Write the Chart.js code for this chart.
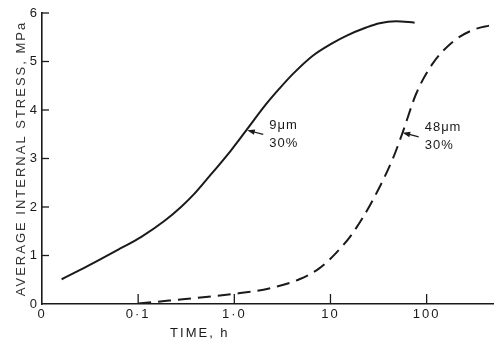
<!DOCTYPE html>
<html>
<head>
<meta charset="utf-8">
<script src="https://cdn.jsdelivr.net/npm/chart.js@4.4.1/dist/chart.umd.min.js"></script>
<style>
html, body { margin: 0; padding: 0; background: #fff; }
</style>
</head>
<body>
<canvas id="stressChart" width="500" height="339"></canvas>
<script>
// 9 um particles, 30%
let fineTime = [0.016, 0.0297, 0.066, 0.107, 0.187, 0.279, 0.383, 0.507, 0.925, 1.33, 2.14, 2.94, 4.05, 6.55, 10.5, 14.6, 23.5, 32.4, 48, 75];
let fineStress = [0.51, 0.78, 1.15, 1.38, 1.71, 2.0, 2.27, 2.55, 3.17, 3.58, 4.12, 4.44, 4.74, 5.12, 5.38, 5.53, 5.70, 5.79, 5.83, 5.80];

// 48 um particles, 30%
let coarseTime = [0.1, 0.21, 1.0, 2.3, 4.75, 7.7, 11.4, 17, 27.5, 44.6, 56.6, 78, 116, 188, 302, 468];
let coarseStress = [0.01, 0.07, 0.21, 0.32, 0.51, 0.74, 1.05, 1.46, 2.14, 3.0, 3.55, 4.34, 4.96, 5.41, 5.65, 5.75];

let xTicks = [0.01, 0.1, 1, 10, 100];
let xTickLabels = ['0', '0·1', '1·0', '10', '100'];
let yTicks = [0, 1, 2, 3, 4, 5, 6];

let notes = [
    { x: 1.33, y: 3.58, lines: ['9μm', '30%'] },
    { x: 55, y: 3.53, lines: ['48μm', '30%'] }
];

let ink = '#1a1a1a';
let fontFamily = '"Liberation Sans", Arial, sans-serif';

function toPoints(xs, ys) {
    return xs.map((x, i) => ({ x: x, y: ys[i] }));
}

// spaced-out lettering like the original drawing
let spacing = {
    id: 'spacing',
    beforeLayout(chart) { chart.ctx.letterSpacing = '2px'; },
    beforeDraw(chart) { chart.ctx.letterSpacing = '2px'; }
};

let extras = {
    id: 'extras',
    afterDraw(chart) {
        let ctx = chart.ctx;
        let xs = chart.scales.x;
        let ys = chart.scales.y;
        let area = chart.chartArea;
        ctx.save();
        ctx.strokeStyle = ink;
        ctx.fillStyle = ink;
        ctx.lineWidth = 1.3;

        // tick marks pointing inward
        xTicks.slice(1).forEach(v => {
            let px = xs.getPixelForValue(v);
            ctx.beginPath();
            ctx.moveTo(px, area.bottom);
            ctx.lineTo(px, area.bottom - 10);
            ctx.stroke();
        });
        yTicks.slice(1).forEach(v => {
            let py = ys.getPixelForValue(v);
            ctx.beginPath();
            ctx.moveTo(area.left, py);
            ctx.lineTo(area.left + 7, py);
            ctx.stroke();
        });

        // x axis title (sits left of centre in the original)
        ctx.letterSpacing = '2px';
        ctx.font = '13px ' + fontFamily;
        ctx.textAlign = 'center';
        ctx.textBaseline = 'middle';
        ctx.fillText('TIME, h', area.left + (area.right - area.left) * 0.35, 333);

        // curve labels with arrows
        ctx.letterSpacing = '1px';
        notes.forEach(n => {
            let tx = xs.getPixelForValue(n.x);
            let ty = ys.getPixelForValue(n.y);
            let sx = tx + 17, sy = ty + 4;
            ctx.lineWidth = 1.2;
            ctx.beginPath();
            ctx.moveTo(sx, sy);
            ctx.lineTo(tx + 4, ty + 0.6);
            ctx.stroke();
            let ang = Math.atan2(ty - sy, tx - sx);
            ctx.beginPath();
            ctx.moveTo(tx + 1, ty);
            ctx.lineTo(tx + 1 - 8 * Math.cos(ang - 0.35), ty - 8 * Math.sin(ang - 0.35));
            ctx.lineTo(tx + 1 - 8 * Math.cos(ang + 0.35), ty - 8 * Math.sin(ang + 0.35));
            ctx.closePath();
            ctx.fill();
            ctx.textAlign = 'left';
            ctx.fillText(n.lines[0], tx + 23, ty - 5);
            ctx.fillText(n.lines[1], tx + 23, ty + 13);
        });
        ctx.restore();
    }
};

let ctx = document.getElementById('stressChart').getContext('2d');
let stressChart = new Chart(ctx, {
    type: 'line',
    data: {
        datasets: [
            {
                data: toPoints(fineTime, fineStress),
                borderColor: ink,
                borderWidth: 2,
                pointRadius: 0,
                cubicInterpolationMode: 'monotone',
                fill: false
            },
            {
                data: toPoints(coarseTime, coarseStress),
                borderColor: ink,
                borderWidth: 2,
                borderDash: [13, 7],
                pointRadius: 0,
                cubicInterpolationMode: 'monotone',
                fill: false
            }
        ]
    },
    options: {
        responsive: false,
        animation: false,
        layout: { padding: { top: 13, right: 7, left: 0, bottom: 0 } },
        plugins: {
            legend: { display: false },
            tooltip: { enabled: false }
        },
        scales: {
            x: {
                type: 'logarithmic',
                min: 0.01,
                max: 490,
                afterBuildTicks: s => { s.ticks = xTicks.map(v => ({ value: v })); },
                afterFit: s => { s.height = 35; },
                grid: { drawOnChartArea: false, drawTicks: false },
                border: { display: true, color: ink, width: 1.6 },
                ticks: {
                    autoSkip: false,
                    maxRotation: 0,
                    padding: 3,
                    color: ink,
                    font: { family: fontFamily, size: 13 },
                    callback: (v, i) => xTickLabels[i]
                },
                title: { display: false }
            },
            y: {
                min: 0,
                max: 6,
                afterBuildTicks: s => { s.ticks = yTicks.map(v => ({ value: v })); },
                afterFit: s => { s.width = 42; },
                grid: { drawOnChartArea: false, drawTicks: false },
                border: { display: true, color: ink, width: 1.6 },
                ticks: {
                    padding: 3,
                    color: ink,
                    font: { family: fontFamily, size: 13 }
                },
                title: {
                    display: true,
                    text: 'AVERAGE INTERNAL STRESS, MPa',
                    color: '#333',
                    font: { family: fontFamily, size: 13 },
                    padding: { top: 14, bottom: 0 }
                }
            }
        }
    },
    plugins: [spacing, extras]
});
</script>
</body>
</html>
